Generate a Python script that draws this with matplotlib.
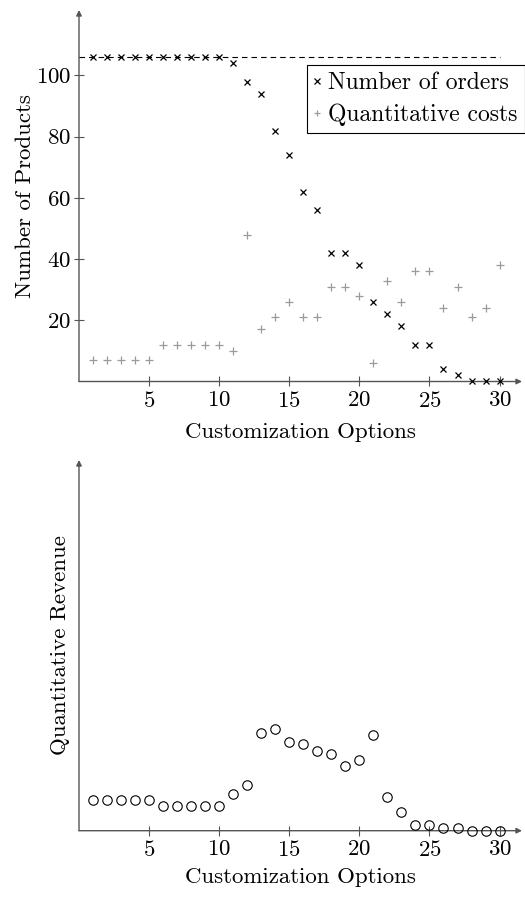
import matplotlib
matplotlib.use("Agg")
import matplotlib.pyplot as plt

plt.rcParams["font.family"] = "cmr10"
plt.rcParams["mathtext.fontset"] = "cm"
plt.rcParams["axes.formatter.use_mathtext"] = True

# data
options = list(range(1, 31))
orders = [106, 106, 106, 106, 106, 106, 106, 106, 106, 106,
          104, 98, 94, 82, 74, 62, 56, 42, 42, 38,
          26, 22, 18, 12, 12, 4, 2, 0, 0, 0]
costs = [7, 7, 7, 7, 7, 12, 12, 12, 12, 12,
         10, 48, 17, 21, 26, 21, 21, 31, 31, 28,
         6, 33, 26, 36, 36, 24, 31, 21, 24, 38]
revenue = [31, 31, 31, 31, 31, 25, 25, 25, 25, 25,
           37, 46, 98, 102, 89, 87, 80, 77, 65, 71,
           96, 34, 19, 6, 6, 3, 3, 0, 0, 0]
max_orders = 106
xticks = [5, 10, 15, 20, 25, 30]
yticks_top = [20, 40, 60, 80, 100]

W, H = 525, 897
AXIS_COLOR = "#555555"
FS = 16.5


def px_axes(left, top, right, bottom):
    return [left / W, 1 - bottom / H, (right - left) / W, (bottom - top) / H]


def style_axes(ax):
    for s in ax.spines.values():
        s.set_visible(False)
    arrow = dict(arrowstyle="-|>", color=AXIS_COLOR, lw=1.0, shrinkA=0, shrinkB=0,
                 mutation_scale=8)
    ax.annotate("", xy=(0, 1), xytext=(0, 0), xycoords="axes fraction", arrowprops=arrow, zorder=1)
    ax.annotate("", xy=(1, 0), xytext=(0, 0), xycoords="axes fraction", arrowprops=arrow, zorder=1)
    ax.set_xlim(0, 31.6)
    ax.set_xticks(xticks)
    ax.tick_params(axis="both", direction="inout", length=7, width=0.8, color=AXIS_COLOR,
                   labelsize=FS, pad=2)
    ax.tick_params(axis="x", pad=3)
    ax.set_xlabel("Customization Options", fontsize=FS)


fig = plt.figure(figsize=(W / 100, H / 100), dpi=100)

# top panel
ax1 = fig.add_axes(px_axes(79, 10, 522, 381.5))
style_axes(ax1)
ax1.set_ylim(0, 121.4)
ax1.set_yticks(yticks_top)
ax1.plot([0, 30], [max_orders, max_orders], color="black", lw=0.8, dashes=(5, 3.6), zorder=2)
ax1.plot(options, orders, linestyle="none", marker="x", color="black", markersize=4.6,
         markeredgewidth=0.9, clip_on=False, zorder=4, label="Number of orders")
ax1.plot(options, costs, linestyle="none", marker="+", color="#9a9a9a", markersize=6,
         markeredgewidth=0.9, clip_on=False, zorder=3, label="Quantitative costs")
ax1.set_ylabel("Number of Products", fontsize=FS)
ax1.yaxis.set_label_coords(-0.1, 0.5)
ax1.xaxis.set_label_coords(0.5, -0.11)
leg = ax1.legend(loc="upper right", bbox_to_anchor=(524.5 / W, 1 - 65 / H),
                 bbox_transform=fig.transFigure, borderaxespad=0, fontsize=17,
                 handlelength=0.25, handletextpad=0.35, borderpad=0.3, labelspacing=0.4,
                 markerscale=0.8, fancybox=False, framealpha=1, edgecolor="black")
leg.get_frame().set_linewidth(0.8)

# bottom panel
ax2 = fig.add_axes(px_axes(79, 460, 522, 830.7))
style_axes(ax2)
ax2.set_ylim(0, 370.7)
ax2.set_yticks([])
ax2.plot(options, revenue, linestyle="none", marker="o", markerfacecolor="none",
         markeredgecolor="black", markersize=6.8, markeredgewidth=0.8, clip_on=False, zorder=3)
ax2.set_ylabel("Quantitative Revenue", fontsize=FS)
ax2.yaxis.set_label_coords(-0.02, 0.5)
ax2.xaxis.set_label_coords(0.5, -0.1)

fig.savefig("out.png", dpi=100)
